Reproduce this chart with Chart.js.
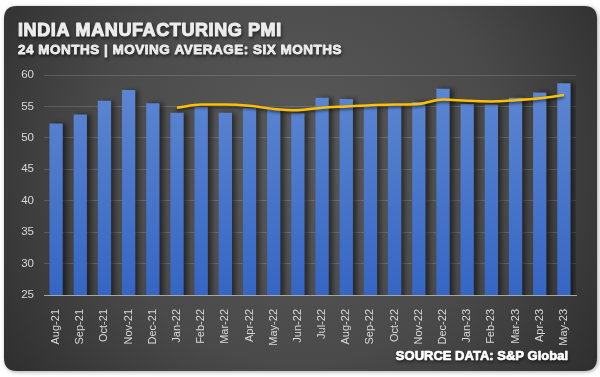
<!DOCTYPE html>
<html>
<head>
<meta charset="utf-8">
<style>
  html, body { margin: 0; padding: 0; background: #ffffff; }
  #wrap { width: 600px; height: 377px; }
</style>
</head>
<body>
<div id="wrap">
    <canvas id="pmiChart" width="600" height="377"></canvas>
</div>

<script src="https://cdn.jsdelivr.net/npm/chart.js"></script>

<script>
    // months shown on the x axis
    var months = ['Aug-21', 'Sep-21', 'Oct-21', 'Nov-21', 'Dec-21', 'Jan-22', 'Feb-22', 'Mar-22',
        'Apr-22', 'May-22', 'Jun-22', 'Jul-22', 'Aug-22', 'Sep-22', 'Oct-22', 'Nov-22',
        'Dec-22', 'Jan-23', 'Feb-23', 'Mar-23', 'Apr-23', 'May-23'];

    // PMI readings (bars)
    var pmi = [52.3, 53.7, 55.9, 57.6, 55.5, 54.0, 54.9, 54.0, 54.7, 54.6, 53.9,
        56.4, 56.2, 55.1, 55.3, 55.7, 57.8, 55.4, 55.3, 56.4, 57.2, 58.7];

    // six month moving average (line), first five months have none
    var movingAvg = [null, null, null, null, null, 54.8, 55.3, 55.3, 55.1, 54.6, 54.4,
        54.8, 55.0, 55.2, 55.3, 55.4, 56.1, 55.9, 55.8, 56.0, 56.3, 56.8];

    var yTicks = [25, 30, 35, 40, 45, 50, 55, 60];

    var titleText = 'INDIA MANUFACTURING PMI';
    var subtitleText = '24 MONTHS | MOVING AVERAGE: SIX MONTHS';
    var sourceText = 'SOURCE DATA: S&P Global';

    // draws text a little heavier (fill + thin stroke of same colour)
    function heavyText(ctx, txt, x, y, weight) {
        ctx.lineWidth = weight;
        ctx.lineJoin = 'round';
        ctx.strokeText(txt, x, y);
        ctx.shadowColor = 'transparent';
        ctx.fillText(txt, x, y);
    }

    // dark rounded card behind everything + the texts
    var cardPlugin = {
        id: 'card',
        beforeDraw: function (chart) {
            var ctx = chart.ctx;
            ctx.save();
            var x = 4, y = 6, w = 593, h = 365, r = 13;
            ctx.beginPath();
            ctx.moveTo(x + r, y);
            ctx.lineTo(x + w - r, y);
            ctx.quadraticCurveTo(x + w, y, x + w, y + r);
            ctx.lineTo(x + w, y + h - r);
            ctx.quadraticCurveTo(x + w, y + h, x + w - r, y + h);
            ctx.lineTo(x + r, y + h);
            ctx.quadraticCurveTo(x, y + h, x, y + h - r);
            ctx.lineTo(x, y + r);
            ctx.quadraticCurveTo(x, y, x + r, y);
            ctx.closePath();
            var g = ctx.createRadialGradient(300, 150, 20, 300, 170, 430);
            g.addColorStop(0, '#585858');
            g.addColorStop(0.45, '#4a4a4a');
            g.addColorStop(1, '#222222');
            ctx.shadowColor = 'rgba(0,0,0,0.35)';
            ctx.shadowBlur = 4;
            ctx.shadowOffsetX = 1;
            ctx.shadowOffsetY = 1;
            ctx.fillStyle = g;
            ctx.fill();
            ctx.restore();
        },
        afterDraw: function (chart) {
            var ctx = chart.ctx;
            var shadow = function () {
                ctx.shadowColor = 'rgba(0,0,0,0.8)';
                ctx.shadowBlur = 3;
                ctx.shadowOffsetX = 1;
                ctx.shadowOffsetY = 2;
            };
            ctx.save();
            ctx.fillStyle = '#ececec';
            ctx.strokeStyle = '#ececec';
            ctx.textBaseline = 'alphabetic';
            ctx.textAlign = 'left';

            shadow();
            ctx.font = 'bold 18px "Liberation Sans", Arial, sans-serif';
            ctx.letterSpacing = '0.6px';
            heavyText(ctx, titleText, 18, 36, 1.1);

            shadow();
            ctx.font = 'bold 13.5px "Liberation Sans", Arial, sans-serif';
            ctx.letterSpacing = '0.5px';
            heavyText(ctx, subtitleText, 18, 54, 0.8);

            shadow();
            ctx.letterSpacing = '0px';
            ctx.fillStyle = '#ffffff';
            ctx.strokeStyle = '#ffffff';
            ctx.font = 'bold 13px "Liberation Sans", Arial, sans-serif';
            ctx.textAlign = 'right';
            heavyText(ctx, sourceText, 568, 360, 0.7);
            ctx.restore();
        },
        beforeDatasetDraw: function (chart, args) {
            var ctx = chart.ctx;
            ctx.save();
            if (args.meta.type === 'bar') {
                ctx.shadowColor = 'rgba(0,0,0,0.5)';
                ctx.shadowBlur = 5;
                ctx.shadowOffsetX = 4;
                ctx.shadowOffsetY = 0;
            } else {
                ctx.shadowColor = 'rgba(0,0,0,0.55)';
                ctx.shadowBlur = 3;
                ctx.shadowOffsetX = 0;
                ctx.shadowOffsetY = 2;
            }
        },
        afterDatasetDraw: function (chart) {
            chart.ctx.restore();
        }
    };

    function barGradient(context) {
        var chart = context.chart;
        var area = chart.chartArea;
        if (!area) return '#4a78cc';
        var g = chart.ctx.createLinearGradient(0, area.top, 0, area.bottom);
        g.addColorStop(0, '#5f88d2');
        g.addColorStop(1, '#3566c4');
        return g;
    }

    var ctx = document.getElementById('pmiChart');

    new Chart(ctx, {
        type: 'bar',
        data: {
            labels: months,
            datasets: [{
                type: 'line',
                label: 'Moving average',
                data: movingAvg,
                borderColor: '#ffc000',
                borderWidth: 2.5,
                pointRadius: 0,
                tension: 0.4,
                cubicInterpolationMode: 'monotone',
                order: 0
            }, {
                label: 'PMI',
                data: pmi,
                backgroundColor: barGradient,
                borderWidth: 0,
                barPercentage: 0.55,
                categoryPercentage: 1,
                order: 1
            }]
        },
        options: {
            responsive: false,
            animation: false,
            devicePixelRatio: 1,
            layout: {
                padding: { top: 75, left: 10, right: 24, bottom: 0 }
            },
            plugins: {
                legend: { display: false },
                tooltip: { enabled: false },
                title: { display: false }
            },
            scales: {
                x: {
                    grid: { display: false },
                    border: { color: '#a6a6a6', width: 1 },
                    ticks: {
                        color: '#d9d9d9',
                        font: { family: '"Liberation Sans", Arial, sans-serif', size: 11 },
                        minRotation: 90,
                        maxRotation: 90,
                        autoSkip: false,
                        padding: 6
                    },
                    afterFit: function (scale) { scale.height = 82; }
                },
                y: {
                    min: 25,
                    max: 60,
                    afterBuildTicks: function (scale) {
                        scale.ticks = yTicks.map(function (v) { return { value: v }; });
                    },
                    grid: { color: 'rgba(255,255,255,0.14)', lineWidth: 1, drawTicks: false },
                    border: { display: false },
                    ticks: {
                        color: '#d9d9d9',
                        font: { family: '"Liberation Sans", Arial, sans-serif', size: 11.5 },
                        padding: 10
                    },
                    afterFit: function (scale) { scale.width = 34; }
                }
            }
        },
        plugins: [cardPlugin]
    });
</script>
</body>
</html>
